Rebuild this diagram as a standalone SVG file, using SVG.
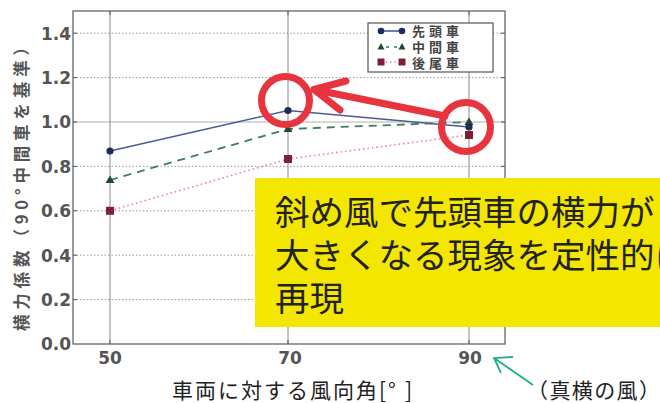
<svg xmlns="http://www.w3.org/2000/svg" width="660" height="403" viewBox="0 0 660 403">
<style>
.grid-h{stroke:#9a9a9a;stroke-width:1;stroke-dasharray:1.5,2;fill:none}
.grid-v{stroke:#8a8a8a;stroke-width:1;fill:none}
.tick{stroke:#555;stroke-width:1;fill:none}
.frame{stroke:#666;stroke-width:1.3;fill:none}
.tl{font-family:"DejaVu Sans",sans-serif;font-size:17px;font-weight:bold;fill:#555}
.blue{stroke:#4c5a98;stroke-width:1.6;fill:none}
.green{stroke:#3f7d5c;stroke-width:1.8;stroke-dasharray:8,6;fill:none}
.red{stroke:#f07f8e;stroke-width:1.6;stroke-dasharray:1.5,3;fill:none}
.mb{fill:#1f2b5e}
.mg{fill:#1d4a32}
.mr{fill:#7e1f3a}
.leg{font-family:"Noto Sans CJK JP",sans-serif;font-size:13px;font-weight:bold;fill:#444;letter-spacing:4px}
.ann{stroke:#e8343f;stroke-width:7;fill:none;stroke-linecap:round;stroke-linejoin:round}
.big{font-family:"Noto Sans CJK JP",sans-serif;font-size:34.5px;fill:#222}
.lab{font-family:"Noto Sans CJK JP",sans-serif;font-size:21px;fill:#222}
</style>
<rect width="660" height="403" fill="#ffffff"/>
<g id="grid">
<line class="grid-h" x1="73" y1="33.2" x2="505" y2="33.2"/>
<line class="grid-h" x1="73" y1="77.6" x2="505" y2="77.6"/>
<line x1="73" y1="122" x2="505" y2="122" stroke="#b0b0b0" stroke-width="1.2"/>
<line class="grid-h" x1="73" y1="166.4" x2="505" y2="166.4"/>
<line class="grid-h" x1="73" y1="210.8" x2="505" y2="210.8"/>
<line class="grid-h" x1="73" y1="255.2" x2="505" y2="255.2"/>
<line class="grid-h" x1="73" y1="299.6" x2="505" y2="299.6"/>
<line class="grid-v" x1="110" y1="11" x2="110" y2="344"/>
<line class="grid-v" x1="288" y1="11" x2="288" y2="344"/>
<line class="grid-v" x1="469" y1="11" x2="469" y2="344"/>
</g>
<g id="ticks">
<path class="tick" d="M73 33.2h4M73 77.6h4M73 122h4M73 166.4h4M73 210.8h4M73 255.2h4M73 299.6h4M505 33.2h-4M505 77.6h-4M505 122h-4M505 166.4h-4M505 210.8h-4M505 255.2h-4M505 299.6h-4M110 344v-4M288 344v-4M469 344v-4M110 11v4M288 11v4M469 11v4"/>
</g>
<g id="series">
<polyline class="red" points="110,210.8 288,159 469,135"/>
<polyline class="green" points="110,180 288,129 469,122"/>
<polyline class="blue" points="110,151 288,110.5 469,127"/>
<rect class="mr" x="106" y="206.8" width="8" height="8"/>
<rect class="mr" x="284" y="155" width="8" height="8"/>
<rect class="mr" x="465" y="131" width="8" height="8"/>
<polygon class="mg" points="110,175.5 114.5,183 105.5,183"/>
<polygon class="mg" points="288,124.5 292.5,132 283.5,132"/>
<polygon class="mg" points="469,117.5 473.5,125 464.5,125"/>
<circle class="mb" cx="110" cy="151" r="3.6"/>
<circle class="mb" cx="288" cy="110.5" r="3.6"/>
<circle class="mb" cx="469" cy="127" r="3.6"/>
</g>
<rect id="frame" class="frame" x="73" y="11" width="432" height="333"/>
<g id="ytick-labels">
<text class="tl" x="71" y="39.5" text-anchor="end">1.4</text>
<text class="tl" x="71" y="83.9" text-anchor="end">1.2</text>
<text class="tl" x="71" y="128.3" text-anchor="end">1.0</text>
<text class="tl" x="71" y="172.7" text-anchor="end">0.8</text>
<text class="tl" x="71" y="217.1" text-anchor="end">0.6</text>
<text class="tl" x="71" y="261.5" text-anchor="end">0.4</text>
<text class="tl" x="71" y="305.9" text-anchor="end">0.2</text>
<text class="tl" x="71" y="350.3" text-anchor="end">0.0</text>
</g>
<g id="xtick-labels">
<text class="tl" x="110" y="364" text-anchor="middle">50</text>
<text class="tl" x="290" y="364" text-anchor="middle">70</text>
<text class="tl" x="470" y="364" text-anchor="middle">90</text>
</g>
<g id="ylabel">
<text transform="translate(28,185) rotate(-90)" text-anchor="middle" font-family="'Noto Sans CJK JP',sans-serif" font-size="16.5" font-weight="bold" fill="#555" textLength="292" lengthAdjust="spacing">横力係数（90°中間車を基準）</text>
</g>
<g id="legend">
<rect x="368" y="23" width="125" height="49" fill="#fff" stroke="#555" stroke-width="1.2"/>
<line x1="381" y1="31" x2="402" y2="31" class="blue"/>
<circle class="mb" cx="381" cy="31" r="3.3"/>
<circle class="mb" cx="402" cy="31" r="3.3"/>
<line x1="381" y1="47" x2="402" y2="47" stroke="#3f7d5c" stroke-width="1.6" stroke-dasharray="3,5" stroke-dashoffset="-5"/>
<polygon class="mg" points="381,43 384.5,49.5 377.5,49.5"/>
<polygon class="mg" points="402,43 405.5,49.5 398.5,49.5"/>
<line x1="381" y1="62" x2="402" y2="62" class="red"/>
<rect class="mr" x="377.5" y="58.5" width="7" height="7"/>
<rect class="mr" x="398.5" y="58.5" width="7" height="7"/>
<text class="leg" x="412" y="36">先頭車</text>
<text class="leg" x="412" y="52">中間車</text>
<text class="leg" x="412" y="67.5">後尾車</text>
</g>
<g id="note">
<rect x="255" y="178" width="405" height="149" fill="#f3e600"/>
<text class="big" x="275" y="225">斜め風で先頭車の横力が</text>
<text class="big" x="275" y="268">大きくなる現象を定性的に</text>
<text class="big" x="275" y="311">再現</text>
</g>
<g id="highlights">
<circle class="ann" cx="285.5" cy="100.5" r="24"/>
<circle class="ann" cx="466" cy="127" r="24.5"/>
</g>
<g id="connectors">
<path class="ann" d="M445 116L314 89.5M346 81L314 89.5L340 110"/>
<path d="M533 385L494 358M513 357L494 358L501 373" stroke="#1fae8c" stroke-width="1.8" fill="none"/>
</g>
<g id="xlabel">
<text class="lab" x="172" y="398" textLength="205" lengthAdjust="spacing">車両に対する風向角</text>
<text class="lab" x="379" y="398">[</text>
<text class="lab" x="388" y="398">°</text>
<text class="lab" x="405" y="398">]</text>
</g>
<g id="side-note">
<text class="lab" x="527" y="398" textLength="133" lengthAdjust="spacing">（真横の風）</text>
</g>
</svg>
